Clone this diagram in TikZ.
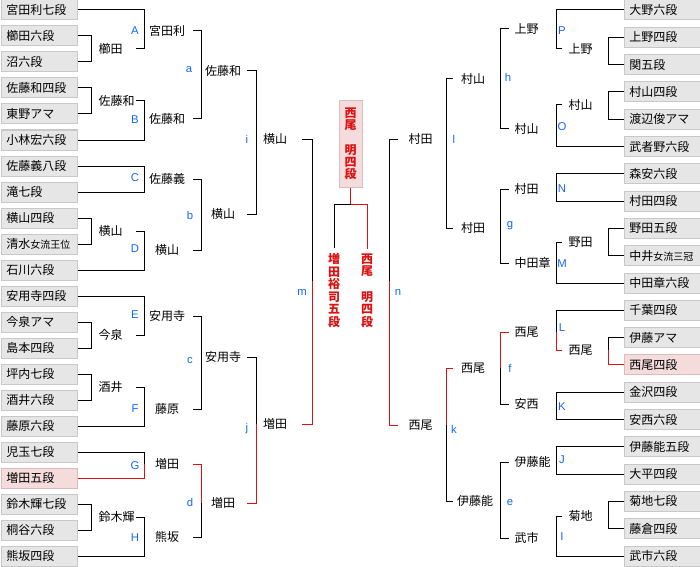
\documentclass[tikz,border=0pt]{standalone}
\usepackage{fontspec}
\setmainfont{Noto Sans CJK JP}
\newfontfamily\latn{Liberation Sans}
\definecolor{boxfill}{HTML}{E6E6E6}
\definecolor{boxline}{HTML}{C8C8C8}
\definecolor{pinkfill}{HTML}{F4DCDC}
\definecolor{pinkline}{HTML}{DDBBBB}
\definecolor{lblue}{HTML}{1166FF}
\definecolor{wred}{HTML}{DD1111}
\newcommand\smtxt[1]{{\fontsize{7.5}{9}\selectfont #1}}
\begin{document}
\begin{tikzpicture}[x=0.75pt,y=-0.75pt,line width=0.75pt,
  namebox/.style={draw=boxline,fill=boxfill,line width=0.75pt,minimum height=15pt,text width=49pt,inner xsep=4pt,inner ysep=0pt,align=left,anchor=west,font=\fontsize{9}{10}\selectfont},
  pinkbox/.style={namebox,draw=pinkline,fill=pinkfill},
  win/.style={inner sep=0pt,font=\fontsize{9}{10}\selectfont},
  lab/.style={inner sep=0pt,text=lblue,font=\latn\fontsize{8.5}{10}\selectfont},
  wline/.style={draw=wred},
  champ/.style={draw=pinkline,fill=pinkfill,minimum width=17.25pt,minimum height=64.5pt,inner sep=0pt,align=center,text=wred,font=\fontsize{9}{9.2}\selectfont\bfseries},
  fin/.style={inner xsep=0pt,inner ysep=3.5pt,align=center,text=wred,font=\fontsize{9}{9.4}\selectfont\bfseries}]
\useasboundingbox (0,0) rectangle (700,567);
% ---------- left boxes ----------
\node[namebox] (L0) at (0.5,10) {宮田利七段};
\node[namebox] (L1) at (0.5,36) {櫛田六段};
\node[namebox] (L2) at (0.5,62) {沼六段};
\node[namebox] (L3) at (0.5,88) {佐藤和四段};
\node[namebox] (L4) at (0.5,114) {東野アマ};
\node[namebox] (L5) at (0.5,140) {小林宏六段};
\node[namebox] (L6) at (0.5,166) {佐藤義八段};
\node[namebox] (L7) at (0.5,192) {滝七段};
\node[namebox] (L8) at (0.5,218) {横山四段};
\node[namebox] (L9) at (0.5,244) {清水\smtxt{女流王位}};
\node[namebox] (L10) at (0.5,270) {石川六段};
\node[namebox] (L11) at (0.5,296) {安用寺四段};
\node[namebox] (L12) at (0.5,322) {今泉アマ};
\node[namebox] (L13) at (0.5,348) {島本四段};
\node[namebox] (L14) at (0.5,374) {坪内七段};
\node[namebox] (L15) at (0.5,400) {酒井六段};
\node[namebox] (L16) at (0.5,426) {藤原六段};
\node[namebox] (L17) at (0.5,452) {児玉七段};
\node[pinkbox] (L18) at (0.5,478) {増田五段};
\node[namebox] (L19) at (0.5,504) {鈴木輝七段};
\node[namebox] (L20) at (0.5,530) {桐谷六段};
\node[namebox] (L21) at (0.5,556) {熊坂四段};
% ---------- right boxes ----------
\node[namebox] (R0) at (623.5,10) {大野六段};
\node[namebox] (R1) at (623.5,37.3) {上野四段};
\node[namebox] (R2) at (623.5,64.6) {関五段};
\node[namebox] (R3) at (623.5,91.9) {村山四段};
\node[namebox] (R4) at (623.5,119.2) {渡辺俊アマ};
\node[namebox] (R5) at (623.5,146.5) {武者野六段};
\node[namebox] (R6) at (623.5,173.8) {森安六段};
\node[namebox] (R7) at (623.5,201.1) {村田四段};
\node[namebox] (R8) at (623.5,228.4) {野田五段};
\node[namebox] (R9) at (623.5,255.7) {中井\smtxt{女流三冠}};
\node[namebox] (R10) at (623.5,283) {中田章六段};
\node[namebox] (R11) at (623.5,310.3) {千葉四段};
\node[namebox] (R12) at (623.5,337.6) {伊藤アマ};
\node[pinkbox] (R13) at (623.5,364.9) {西尾四段};
\node[namebox] (R14) at (623.5,392.2) {金沢四段};
\node[namebox] (R15) at (623.5,419.5) {安西六段};
\node[namebox] (R16) at (623.5,446.8) {伊藤能五段};
\node[namebox] (R17) at (623.5,474.1) {大平四段};
\node[namebox] (R18) at (623.5,501.4) {菊地七段};
\node[namebox] (R19) at (623.5,528.7) {藤倉四段};
\node[namebox] (R20) at (623.5,556) {武市六段};
% ---------- left round 1 ----------
\node[win,anchor=west] (wK1) at (98,49) {櫛田};   \coordinate (oK1) at (136,49);
\node[win,anchor=west] (wK2) at (98,101) {佐藤和}; \coordinate (oK2) at (136,101);
\node[win,anchor=west] (wK3) at (98,231) {横山};   \coordinate (oK3) at (136,231);
\node[win,anchor=west] (wK4) at (98,335) {今泉};   \coordinate (oK4) at (136,335);
\node[win,anchor=west] (wK5) at (98,387) {酒井};   \coordinate (oK5) at (136,387);
\node[win,anchor=west] (wK6) at (98,517) {鈴木輝}; \coordinate (oK6) at (136,517);
\draw (L1.east) -| (91,62) -- (L2.east);
\draw (L3.east) -| (91,114) -- (L4.east);
\draw (L8.east) -| (91,244) -- (L9.east);
\draw (L12.east) -| (91,348) -- (L13.east);
\draw (L14.east) -| (91,400) -- (L15.east);
\draw (L19.east) -| (91,530) -- (L20.east);
% ---------- left round 2 ----------
\node[win] (wA) at (167,31) {宮田利}; \coordinate (oA) at (193,31);
\node[win] (wB) at (167,119) {佐藤和}; \coordinate (oB) at (193,119);
\node[win] (wC) at (167,179) {佐藤義}; \coordinate (oC) at (193,179);
\node[win] (wD) at (167,250) {横山}; \coordinate (oD) at (193,250);
\node[win] (wE) at (167,316) {安用寺}; \coordinate (oE) at (193,316);
\node[win] (wF) at (167,409) {藤原}; \coordinate (oF) at (193,409);
\node[win] (wG) at (167,464) {増田}; \coordinate (oG) at (193,464);
\node[win] (wH) at (167,537) {熊坂}; \coordinate (oH) at (193,537);
\draw (L0.east) -| (144,49) -- (oK1);
\draw (oK2) -| (144,140) -- (L5.east);
\draw (L6.east) -| (144,192) -- (L7.east);
\draw (oK3) -| (144,270) -- (L10.east);
\draw (L11.east) -| (144,335) -- (oK4);
\draw (oK5) -| (144,426) -- (L16.east);
\draw (L17.east) -| (144,464);
\draw[wline] (L18.east) -| (144,464);
\draw (oK6) -| (144,556) -- (L21.east);
\node[lab] (lA) at (135,31) {A};
\node[lab] (lB) at (135,120) {B};
\node[lab] (lC) at (135,178) {C};
\node[lab] (lD) at (135,249) {D};
\node[lab] (lE) at (135,315) {E};
\node[lab] (lF) at (135,409) {F};
\node[lab] (lG) at (135,466) {G};
\node[lab] (lH) at (135,538) {H};
% ---------- left round 3 ----------
\node[win] (wa) at (223,71) {佐藤和}; \coordinate (oa) at (247,71);
\node[win] (wb) at (223,214) {横山}; \coordinate (ob) at (247,214);
\node[win] (wc) at (223,357) {安用寺}; \coordinate (oc) at (247,357);
\node[win] (wd) at (223,503) {増田}; \coordinate (od) at (247,503);
\draw (oA) -| (201,119) -- (oB);
\draw (oC) -| (201,250) -- (oD);
\draw (oE) -| (201,409) -- (oF);
\draw[wline] (oG) -| (201,503);
\draw (oH) -| (201,503);
\node[lab] (la) at (189,70) {a};
\node[lab] (lb) at (190,215) {b};
\node[lab] (lc) at (190,361) {c};
\node[lab] (ld) at (190,502) {d};
% ---------- left round 4 ----------
\node[win] (wi) at (275,139) {横山}; \coordinate (oi) at (302,139);
\node[win] (wj) at (275,424) {増田}; \coordinate (oj) at (302,424);
\draw (oa) -| (256,214) -- (ob);
\draw (oc) -| (256,424);
\draw[wline] (od) -| (256,424);
\node[lab] (li) at (247,139) {i};
\node[lab] (lj) at (247,429) {j};
% ---------- left semi ----------
\draw (oi) -| (312,281);
\draw[wline] (oj) -| (312,281);
\node[lab] (lm) at (302,292) {m};
% ---------- right round 1 ----------
\node[win,anchor=west] (wQ1) at (568,49) {上野}; \coordinate (oQ1) at (562,49);
\node[win,anchor=west] (wQ2) at (568,105) {村山}; \coordinate (oQ2) at (562,105);
\node[win,anchor=west] (wQ3) at (568,242) {野田}; \coordinate (oQ3) at (562,242);
\node[win,anchor=west] (wQ4) at (568,350) {西尾}; \coordinate (oQ4) at (562,350);
\node[win,anchor=west] (wQ5) at (568,516) {菊地}; \coordinate (oQ5) at (562,516);
\draw (R1.west) -| (608,64.6) -- (R2.west);
\draw (R3.west) -| (608,119.2) -- (R4.west);
\draw (R8.west) -| (608,255.7) -- (R9.west);
\draw (R12.west) -| (608,350);
\draw[wline] (R13.west) -| (608,350);
\draw (R18.west) -| (608,528.7) -- (R19.west);
% ---------- right round 2 ----------
\node[win,anchor=west] (wP) at (514,29) {上野}; \coordinate (oP) at (509,29);
\node[win,anchor=west] (wO) at (514,129) {村山}; \coordinate (oO) at (509,129);
\node[win,anchor=west] (wN) at (514,189) {村田}; \coordinate (oN) at (509,189);
\node[win,anchor=west] (wM) at (514,263) {中田章}; \coordinate (oM) at (509,263);
\node[win,anchor=west] (wL) at (514,332) {西尾}; \coordinate (oL) at (509,332);
\node[win,anchor=west] (wKK) at (514,404) {安西}; \coordinate (oKK) at (509,404);
\node[win,anchor=west] (wJ) at (514,462) {伊藤能}; \coordinate (oJ) at (509,462);
\node[win,anchor=west] (wI) at (514,538) {武市}; \coordinate (oI) at (509,538);
\draw (R0.west) -| (556,49) -- (oQ1);
\draw (oQ2) -| (556,146.5) -- (R5.west);
\draw (R6.west) -| (556,201.1) -- (R7.west);
\draw (oQ3) -| (556,283) -- (R10.west);
\draw (R11.west) -| (556,332);
\draw[wline] (oQ4) -| (556,332);
\draw (R14.west) -| (556,419.5) -- (R15.west);
\draw (R16.west) -| (556,474.1) -- (R17.west);
\draw (oQ5) -| (556,556) -- (R20.west);
\node[lab] (lP) at (562,31) {P};
\node[lab] (lO) at (562,127) {O};
\node[lab] (lN) at (562,189) {N};
\node[lab] (lM) at (562,264) {M};
\node[lab] (lL) at (562,328) {L};
\node[lab] (lK) at (562,407) {K};
\node[lab] (lJ) at (562,460) {J};
\node[lab] (lI) at (562,537) {I};
% ---------- right round 3 ----------
\node[win] (wh) at (473,79) {村山}; \coordinate (oh) at (453,79);
\node[win] (wg) at (473,228) {村田}; \coordinate (og) at (453,228);
\node[win] (wf) at (473,368) {西尾}; \coordinate (of) at (453,368);
\node[win] (we) at (475,501) {伊藤能}; \coordinate (oe) at (453,501);
\draw (oP) -| (500,129) -- (oO);
\draw (oN) -| (500,263) -- (oM);
\draw[wline] (oL) -| (500,368);
\draw (oKK) -| (500,368);
\draw (oJ) -| (500,538) -- (oI);
\node[lab] (lh) at (508,77) {h};
\node[lab] (lg) at (510,226) {g};
\node[lab] (lf) at (510,368) {f};
\node[lab] (le) at (510,503) {e};
% ---------- right round 4 ----------
\node[win] (wl) at (420.5,139) {村田}; \coordinate (ol) at (398,139);
\node[win] (wk) at (420.5,425) {西尾}; \coordinate (ok) at (398,425);
\draw (oh) -| (446,228) -- (og);
\draw[wline] (of) -| (446,425);
\draw (oe) -| (446,425);
\node[lab] (ll) at (454,139) {l};
\node[lab] (lk) at (454,429) {k};
% ---------- right semi ----------
\draw (ol) -| (389,281);
\draw[wline] (ok) -| (389,281);
\node[lab] (ln) at (398,292) {n};
% ---------- final ----------
\node[champ] (champ) at (350.5,144) {西\\尾\\　\\明\\四\\段};
\node[fin] (fL) at (334,290.5) {増\\田\\裕\\司\\五\\段};
\node[fin] (fR) at (367,290.5) {西\\尾\\　\\明\\四\\段};
\coordinate (fj) at (350.5,204);
\draw[wline] (champ.south) -- (fj) -| (fR.north);
\draw (fj) -| (fL.north);
\end{tikzpicture}
\end{document}
